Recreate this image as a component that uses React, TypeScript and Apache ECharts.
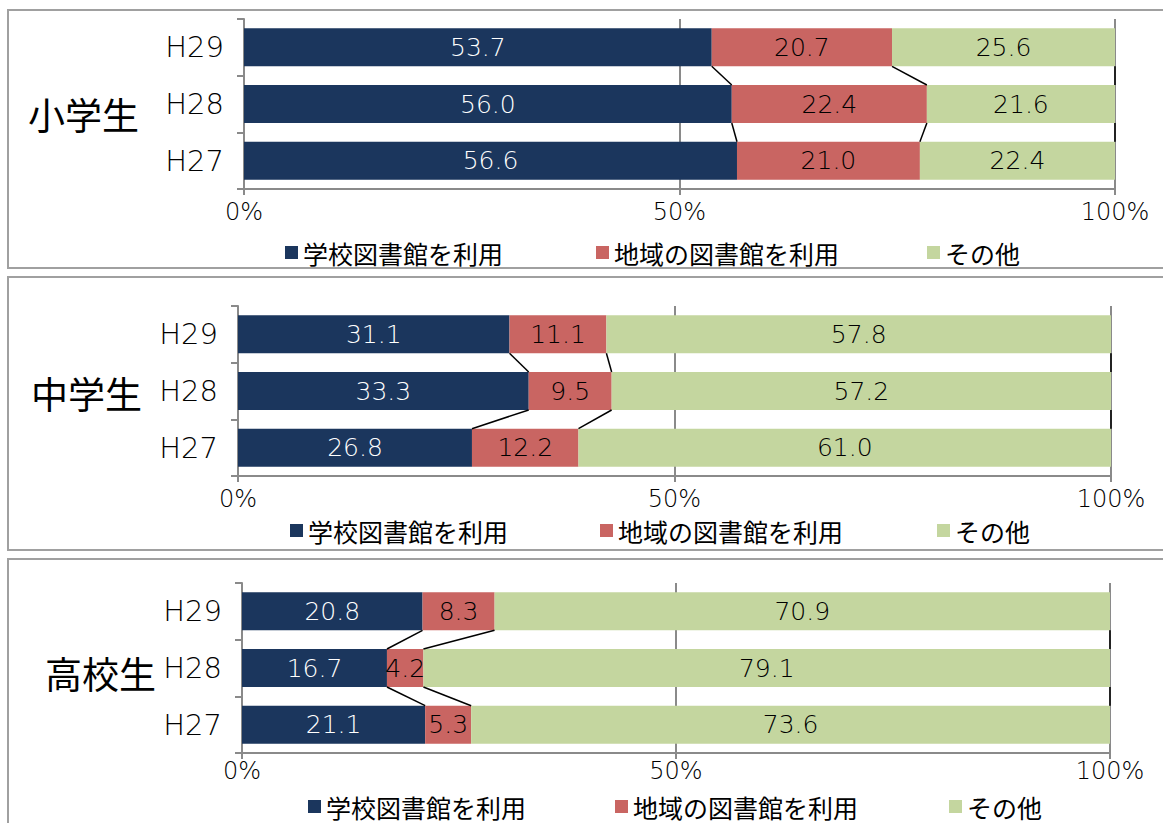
import React, { useEffect, useRef } from 'react';
import * as echarts from 'echarts';

// Categories, bottom to top (ECharts category order)
const categories = ['H27', 'H28', 'H29'];
const seriesNames = ['学校図書館を利用', '地域の図書館を利用', 'その他'];
const panelTitles = ['小学生', '中学生', '高校生'];
const xTickFormat = '{value}%';

// values ordered H27, H28, H29
const elemSchool = [56.6, 56.0, 53.7];
const elemLocal = [21.0, 22.4, 20.7];
const elemOther = [22.4, 21.6, 25.6];

const juniorSchool = [26.8, 33.3, 31.1];
const juniorLocal = [12.2, 9.5, 11.1];
const juniorOther = [61.0, 57.2, 57.8];

const highSchool = [21.1, 16.7, 20.8];
const highLocal = [5.3, 4.2, 8.3];
const highOther = [73.6, 79.1, 70.9];

const panelData = [
  [elemSchool, elemLocal, elemOther],
  [juniorSchool, juniorLocal, juniorOther],
  [highSchool, highLocal, highOther],
];

// layout (pixels)
const grids = [
  { left: 244, top: 19, width: 871, height: 170 },
  { left: 238, top: 306, width: 873, height: 170 },
  { left: 242, top: 583, width: 868, height: 170 },
];
const xLabelMargin = [14, 14, 9];
const boxes = [
  { y: 10, h: 258 },
  { y: 277, h: 273 },
  { y: 559, h: 280 },
];
const titlePos = [
  { x: 28, y: 114 },
  { x: 31, y: 393 },
  { x: 45, y: 673 },
];
const legendY = [252, 530, 806];
const legendX = [
  [285, 596, 927],
  [290, 600, 937],
  [308, 615, 949],
];

const colors = ['#1b365d', '#c96562', '#c4d69f'];
const NUM_FONT = "'DejaVu Sans', 'Noto Sans CJK JP', sans-serif";
const JP_FONT = "'Noto Sans CJK JP', 'DejaVu Sans', sans-serif";
const NUM_WEIGHT = 200;
const BAR_FRAC = 0.67;

function buildOption() {
  const xAxis: any[] = [];
  const yAxis: any[] = [];
  const grid: any[] = [];
  const series: any[] = [];
  const legend: any[] = [];
  const graphic: any[] = [];

  panelData.forEach((vals, p) => {
    grid.push({ ...grids[p], containLabel: false });
    xAxis.push({
      type: 'value',
      gridIndex: p,
      min: 0,
      max: 100,
      interval: 50,
      axisLine: { show: true, lineStyle: { color: '#8a8a8a', width: 2 } },
      axisTick: { show: true, length: 6, lineStyle: { color: '#8a8a8a', width: 2 } },
      splitLine: { show: true, lineStyle: { color: '#8a8a8a', width: 2 } },
      axisLabel: {
        formatter: xTickFormat,
        fontSize: 24,
        lineHeight: 18,
        color: '#000',
        margin: xLabelMargin[p],
        fontFamily: NUM_FONT,
        fontWeight: NUM_WEIGHT,
      },
    });
    yAxis.push({
      type: 'category',
      gridIndex: p,
      data: categories,
      axisLine: { show: true, lineStyle: { color: '#8a8a8a', width: 2 } },
      axisTick: { show: true, length: 7, lineStyle: { color: '#8a8a8a', width: 2 } },
      splitLine: { show: false },
      axisLabel: {
        fontSize: 29,
        color: '#000',
        margin: 20,
        fontFamily: NUM_FONT,
        fontWeight: NUM_WEIGHT,
      },
    });

    vals.forEach((arr, s) => {
      series.push({
        type: 'bar',
        name: seriesNames[s],
        xAxisIndex: p,
        yAxisIndex: p,
        stack: 'total' + p,
        barWidth: BAR_FRAC * 100 + '%',
        data: arr,
        itemStyle: { color: colors[s] },
        label: {
          show: true,
          position: 'inside',
          color: s === 0 ? '#fff' : '#000',
          fontSize: 25,
          fontFamily: NUM_FONT,
          fontWeight: NUM_WEIGHT,
          formatter: (d: any) => Number(d.value).toFixed(1),
        },
      });
    });

    // series connector lines between adjacent bars
    const [a, b, c] = vals;
    const conn: number[][] = [];
    for (let i = 0; i < categories.length - 1; i++) {
      const up = i + 1;
      conn.push([
        i,
        up,
        a[up], a[i],
        a[up] + b[up], a[i] + b[i],
        a[up] + b[up] + c[up], a[i] + b[i] + c[i],
      ]);
    }
    series.push({
      type: 'custom',
      name: 'connector' + p,
      xAxisIndex: p,
      yAxisIndex: p,
      silent: true,
      z: 5,
      clip: false,
      encode: { x: [2, 3, 4, 5, 6, 7], y: [0, 1] },
      data: conn,
      renderItem: (params: any, api: any) => {
        const lo = api.value(0);
        const up = api.value(1);
        const band = api.size([0, 1])[1];
        const half = (band * BAR_FRAC) / 2;
        const children: any[] = [];
        for (let k = 0; k < 3; k++) {
          const p1 = api.coord([api.value(2 + 2 * k), up]);
          const p2 = api.coord([api.value(3 + 2 * k), lo]);
          children.push({
            type: 'line',
            shape: { x1: p1[0], y1: p1[1] + half, x2: p2[0], y2: p2[1] - half },
            style: { stroke: '#000', lineWidth: 1.5 },
          });
        }
        return { type: 'group', children };
      },
    });

    seriesNames.forEach((nm, s) => {
      legend.push({
        data: [nm],
        left: legendX[p][s],
        top: legendY[p] - 12,
        padding: 0,
        itemWidth: 13,
        itemHeight: 13,
        icon: 'rect',
        selectedMode: false,
        textStyle: { fontSize: 25, lineHeight: 24, color: '#000', fontFamily: JP_FONT },
      });
    });

    graphic.push({
      type: 'rect',
      shape: { x: 8, y: boxes[p].y, width: 1180, height: boxes[p].h },
      style: { fill: 'none', stroke: '#a0a0a0', lineWidth: 2 },
      z: -1,
      silent: true,
    });
    graphic.push({
      type: 'text',
      x: titlePos[p].x,
      y: titlePos[p].y,
      style: {
        text: panelTitles[p],
        fontSize: 37,
        fill: '#000',
        fontFamily: JP_FONT,
        textAlign: 'left',
        textVerticalAlign: 'middle',
      },
      silent: true,
    });
  });

  return {
    animation: false,
    backgroundColor: '#fff',
    grid,
    xAxis,
    yAxis,
    series,
    legend,
    graphic,
  };
}

export default function App() {
  const ref = useRef<HTMLDivElement>(null);
  useEffect(() => {
    if (!ref.current) return;
    const chart = echarts.init(ref.current, undefined, { renderer: 'svg' });
    chart.setOption(buildOption() as any);
    return () => chart.dispose();
  }, []);
  return (
    <div
      ref={ref}
      style={{ position: 'fixed', left: 0, top: 0, width: 1163, height: 823, background: '#fff' }}
    />
  );
}
